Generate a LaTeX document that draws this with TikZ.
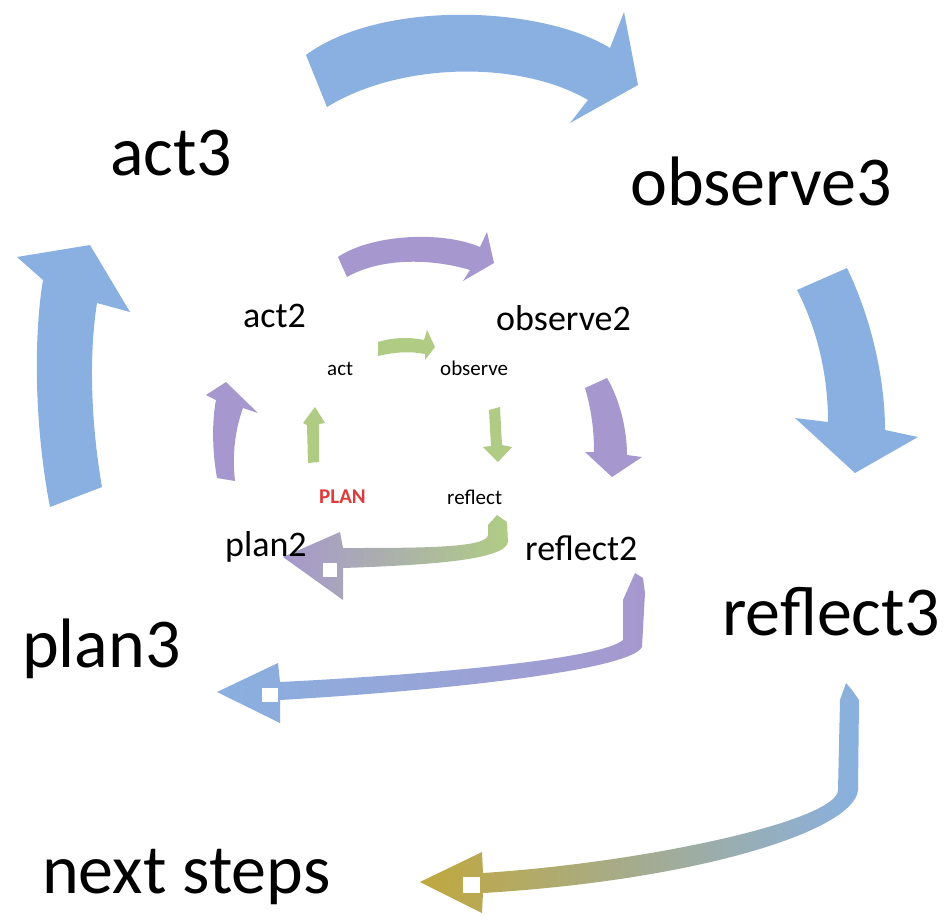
\documentclass[tikz,border=0pt]{standalone}
\usepackage{fontspec}
\setmainfont{Carlito}
\definecolor{cblue}{RGB}{137,176,224}
\definecolor{cpurple}{RGB}{166,152,206}
\definecolor{cgreen}{RGB}{176,204,132}
\definecolor{colive}{RGB}{192,168,62}
\definecolor{cred}{RGB}{222,60,60}
\begin{document}
\begin{tikzpicture}[x=1pt,y=-1pt,
  big/.style={anchor=base west,inner sep=0pt,font=\fontsize{70}{80}\selectfont},
  mid/.style={anchor=base west,inner sep=0pt,font=\fontsize{36}{42}\selectfont},
  small/.style={anchor=base west,inner sep=0pt,font=\fontsize{21}{25}\selectfont},
  sq/.style={fill=white,draw=none}]
\useasboundingbox[fill=white] (0,0) rectangle (947,919);

% ---------- outer (blue) cycle ----------
\fill[cblue] (306,55) .. controls (380,0) and (540,5) .. (610,48) -- (624,12) -- (638,85) -- (570,123) -- (588,100) .. controls (520,60) and (400,62) .. (327,107) -- cycle;
\fill[cblue] (797,290) -- (847,268) .. controls (872,320) and (885,380) .. (885,430) -- (918,437) -- (855,473) -- (795,418) -- (828,422) .. controls (828,370) and (815,325) .. (797,290) -- cycle;
\fill[cblue] (50,507) .. controls (35,430) and (33,340) .. (43,280) -- (17,257) -- (90,245) -- (130,312) -- (97,303) .. controls (88,360) and (92,430) .. (102,487) -- cycle;
\shade[left color=colive,right color=cblue] (840,700) -- (846,683) -- (852,690) -- (859,700) -- (858,790) .. controls (855,830) and (700,880) .. (483,893) -- (482,913) -- (420,882) -- (482,852) -- (483,873) .. controls (650,862) and (838,820) .. (838,790) -- cycle;
\fill[sq] (463,877) rectangle (480,893);
\shade[left color=cblue,right color=cpurple] (623,600) -- (635,573) -- (643,578) -- (645,593) -- (642,647) .. controls (630,670) and (450,690) .. (280,700) -- (280,723) -- (217,692) -- (278,663) -- (280,682) .. controls (420,675) and (600,660) .. (623,640) -- cycle;
\fill[sq] (262,688) rectangle (278,702);

% ---------- middle (purple) cycle ----------
\fill[cpurple] (338,257) .. controls (370,235) and (440,230) .. (480,247) -- (487,232) -- (494,263) -- (463,281) -- (470,270) .. controls (430,258) and (380,258) .. (347,277) -- cycle;
\fill[cpurple] (585,388) -- (607,378) .. controls (620,400) and (627,430) .. (627,455) -- (642,457) -- (612,477) -- (585,452) -- (594,452) .. controls (594,425) and (590,405) .. (585,388) -- cycle;
\fill[cpurple] (217,478) .. controls (212,450) and (212,420) .. (216,400) -- (206,395) -- (226,382) -- (258,413) -- (243,408) .. controls (235,430) and (232,455) .. (235,481) -- cycle;
\shade[left color=cpurple,right color=cgreen] (488,525) -- (497,515) -- (507,522) -- (508,542) .. controls (505,560) and (430,565) .. (343,568) -- (343,600) -- (283,557) -- (340,532) -- (343,548) .. controls (420,548) and (487,548) .. (488,535) -- cycle;
\fill[sq] (323,563) rectangle (337,577);

% ---------- inner (green) cycle ----------
\fill[cgreen] (378,342) .. controls (395,337) and (410,337) .. (424,340) -- (427,330) -- (435,347) -- (425,360) -- (425,354) .. controls (410,351) and (395,352) .. (378,356) -- cycle;
\fill[cgreen] (308,463) -- (307,425) -- (303,423) -- (315,407) -- (325,423) -- (319,424) -- (319,462) -- cycle;
\fill[cgreen] (489,410) -- (500,407) -- (502,445) -- (512,447) -- (498,462) -- (483,447) -- (491,446) -- cycle;

% ---------- labels ----------
\node[big] (act3) at (110,175) {act3};
\node[big] (observe3) at (630,205) {observe3};
\node[big] (reflect3) at (722,635) {reflect3};
\node[big] (plan3) at (22,667) {plan3};
\node[big] (next) at (42,893) {next steps};
\node[mid] (act2) at (243,327) {act2};
\node[mid] (observe2) at (496,330) {observe2};
\node[mid] (reflect2) at (525,560) {reflect2};
\node[mid] (plan2) at (225,556) {plan2};
\node[small] (act) at (327,375) {act};
\node[small] (observe) at (440,375) {observe};
\node[small,text=cred,font=\fontsize{21}{25}\selectfont\bfseries] (plan) at (319,503) {PLAN};
\node[small] (reflect) at (447,504) {reflect};
\end{tikzpicture}
\end{document}
